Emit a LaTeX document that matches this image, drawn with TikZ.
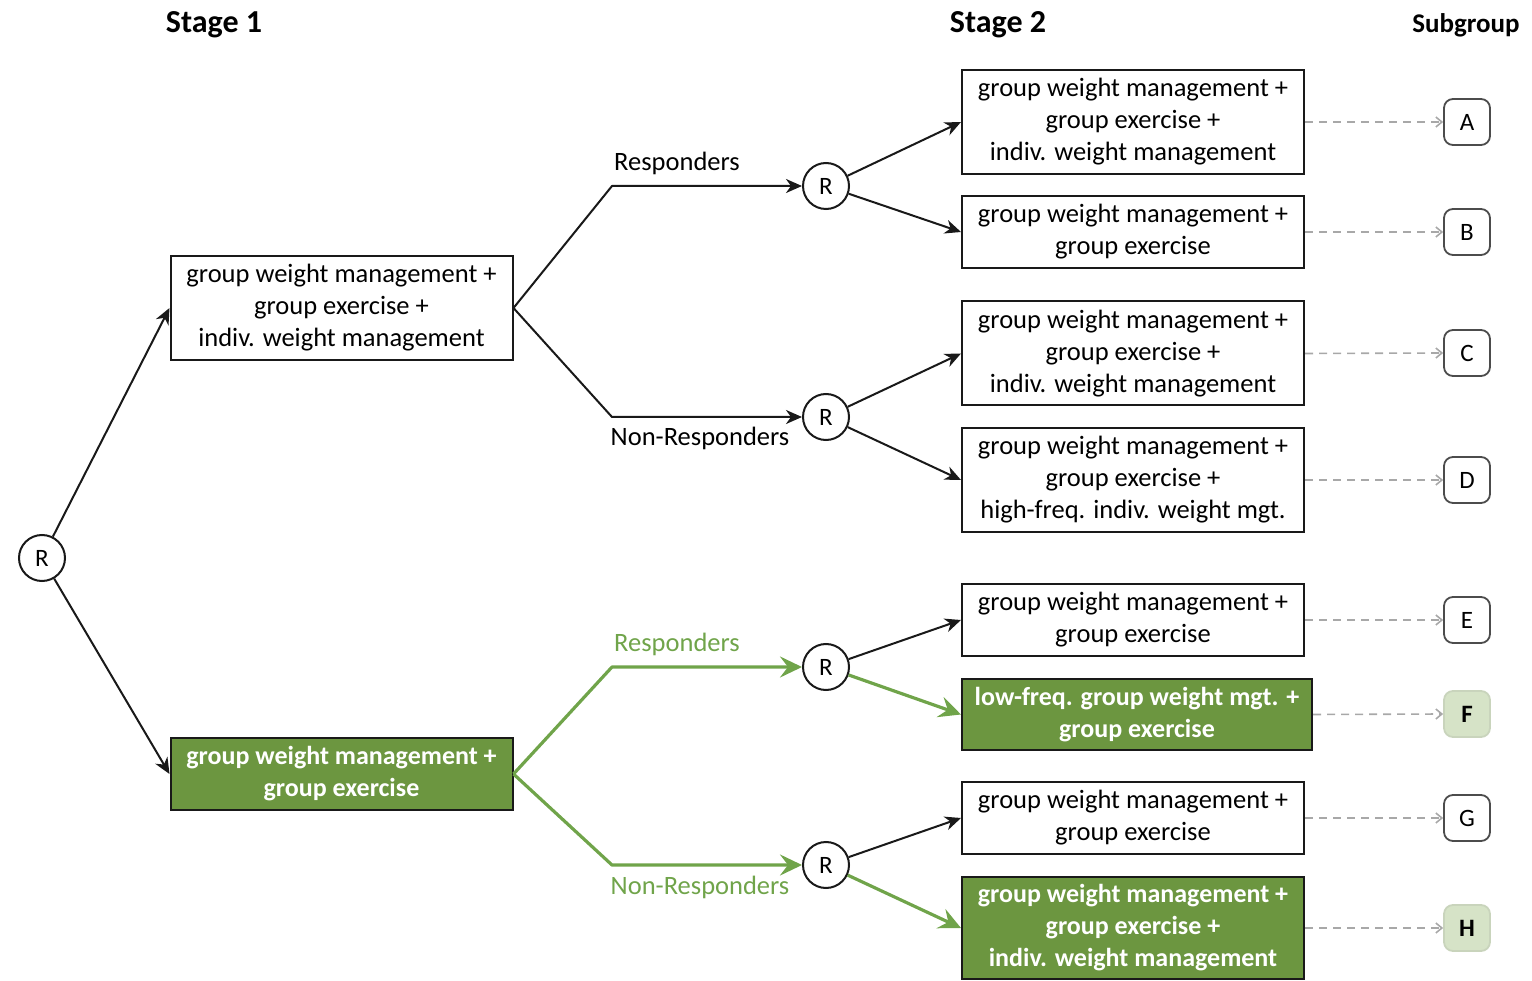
\documentclass[tikz,border=0pt]{standalone}
\usepackage{fontspec}
\setmainfont{Carlito}
\usetikzlibrary{arrows.meta}
\definecolor{grnfill}{RGB}{108,150,64}
\definecolor{grnline}{RGB}{112,164,74}
\definecolor{grnlight}{RGB}{214,227,199}
\definecolor{dashgrey}{RGB}{168,168,168}
\definecolor{boxedge}{RGB}{25,25,25}

\tikzset{
  txt/.style={font=\fontsize{26.5}{32}\selectfont},
  head/.style={font=\fontsize{32}{34}\selectfont\bfseries},
  stagebox/.style={draw=boxedge, line width=2pt, fill=white, align=center,
    inner sep=0pt, minimum width=342pt, txt},
  greenbox/.style={stagebox, fill=grnfill, text=white,
    font=\fontsize{26}{32}\selectfont\bfseries},
  rnode/.style={circle, draw=boxedge, line width=2pt, fill=white,
    minimum size=46pt, inner sep=0pt, font=\fontsize{25}{25}\selectfont},
  subbox/.style={draw=black!70, rounded corners=9pt, line width=1.8pt,
    minimum size=46pt, inner sep=0pt, font=\fontsize{25}{25}\selectfont},
  gsubbox/.style={subbox, fill=grnlight, draw=grnlight!85!gray,
    font=\fontsize{25}{25}\selectfont\bfseries},
  conn/.style={draw=boxedge, line width=2pt, line join=round,
    -{Stealth[length=16pt,width=14pt,inset=5pt]}},
  gconn/.style={conn, draw=grnline, line width=3.2pt,
    -{Stealth[length=22pt,width=21pt,inset=8pt]}},
  dconn/.style={draw=dashgrey, line width=1.6pt, dash pattern=on 8pt off 6pt,
    -{Straight Barb[length=6pt,width=10pt]}},
  lbl/.style={txt, inner sep=0pt},
}

\begin{document}
\begin{tikzpicture}[x=1pt, y=-1pt]
\useasboundingbox (0,0) rectangle (1532,981);

% column headings
\node[head] (h1) at (214,25) {Stage 1};
\node[head] (h2) at (998,25) {Stage 2};
\node[head, font=\fontsize{27}{30}\selectfont\bfseries] (h3) at (1466,25) {Subgroup};

% first randomisation
\node[rnode] (r0) at (42,558) {R};

% stage 1 treatments
\node[stagebox, minimum height=104pt] (s1a) at (341.5,308)
  {group weight management +\\group exercise +\\indiv. weight management};
\node[greenbox, minimum height=72pt] (s1b) at (341.5,774)
  {group weight management +\\group exercise};

\draw[conn] (r0) -- (s1a.west);
\draw[conn] (r0) -- (s1b.west);

% second randomisations
\node[rnode] (ra) at (826,186) {R};
\node[rnode] (rb) at (826,417) {R};
\node[rnode] (rc) at (826,667) {R};
\node[rnode] (rd) at (826,865) {R};

\coordinate (ka) at (612,186);
\coordinate (kb) at (612,417);
\coordinate (kc) at (612,667);
\coordinate (kd) at (612,865);

\draw[conn] (s1a.east) -- (ka) -- (ra.west);
\draw[conn] (s1a.east) -- (kb) -- (rb.west);
\draw[gconn] (s1b.east) -- (kc) -- (rc.west);
\draw[gconn] (s1b.east) -- (kd) -- (rd.west);

\node[lbl] (la) at (677,163) {Responders};
\node[lbl] (lb) at (700,438) {Non-Responders};
\node[lbl, text=grnline] (lc) at (677,644) {Responders};
\node[lbl, text=grnline] (ld) at (700,887) {Non-Responders};

% stage 2 treatments
\node[stagebox, minimum height=104pt] (bA) at (1133,122)
  {group weight management +\\group exercise +\\indiv. weight management};
\node[stagebox, minimum height=72pt] (bB) at (1133,232)
  {group weight management +\\group exercise};
\node[stagebox, minimum height=104pt] (bC) at (1133,353.5)
  {group weight management +\\group exercise +\\indiv. weight management};
\node[stagebox, minimum height=104pt] (bD) at (1133,480)
  {group weight management +\\group exercise +\\high-freq. indiv. weight mgt.};
\node[stagebox, minimum height=72pt] (bE) at (1133,620)
  {group weight management +\\group exercise};
\node[greenbox, minimum height=71pt, minimum width=350pt] (bF) at (1137,714.5)
  {low-freq. group weight mgt. +\\group exercise};
\node[stagebox, minimum height=72pt] (bG) at (1133,818)
  {group weight management +\\group exercise};
\node[greenbox, minimum height=102pt] (bH) at (1133,928)
  {group weight management +\\group exercise +\\indiv. weight management};

\draw[conn] (ra) -- (bA.west);
\draw[conn] (ra) -- (bB.west);
\draw[conn] (rb) -- (bC.west);
\draw[conn] (rb) -- (bD.west);
\draw[conn] (rc) -- (bE.west);
\draw[gconn] (rc) -- (bF.west);
\draw[conn] (rd) -- (bG.west);
\draw[gconn] (rd) -- (bH.west);

% subgroups
\node[subbox] (gA) at (1467,122) {A};
\node[subbox] (gB) at (1467,232) {B};
\node[subbox] (gC) at (1467,353) {C};
\node[subbox] (gD) at (1467,480) {D};
\node[subbox] (gE) at (1467,620) {E};
\node[gsubbox] (gF) at (1467,714) {F};
\node[subbox] (gG) at (1467,818) {G};
\node[gsubbox] (gH) at (1467,928) {H};

\foreach \s in {A,B,C,D,E,F,G,H}
  \draw[dconn] (b\s.east) -- (g\s.west);
\end{tikzpicture}
\end{document}
